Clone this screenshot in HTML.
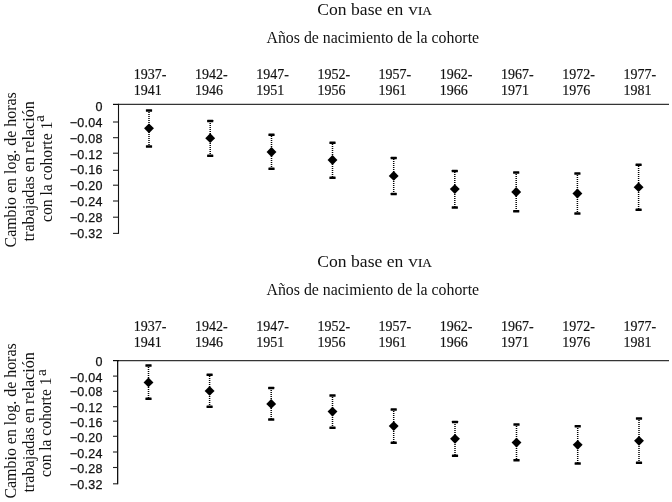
<!DOCTYPE html>
<html><head><meta charset="utf-8"><title>Chart</title>
<style>
html,body{margin:0;padding:0;background:#fff;}
body{width:672px;height:502px;overflow:hidden;font-family:"Liberation Serif",serif;}
svg{display:block;will-change:transform;}
.ser{font-family:"Liberation Serif",serif;fill:#111;}
.san{font-family:"Liberation Sans",sans-serif;fill:#111;stroke:#111;stroke-width:0.25px;}
.yr{stroke:#111;stroke-width:0.18px;}
</style></head><body>
<svg width="672" height="502" viewBox="0 0 672 502">
<rect width="672" height="502" fill="#fff"/>
<text x="317.3" y="15.4" class="ser" font-size="16.4" textLength="86.0" lengthAdjust="spacingAndGlyphs">Con base en</text>
<text x="408.3" y="15.4" class="ser yr" font-size="12.2" textLength="23.6" lengthAdjust="spacingAndGlyphs">VIA</text>
<text x="372.8" y="43.3" class="ser" font-size="16" text-anchor="middle" textLength="212.6" lengthAdjust="spacingAndGlyphs">Años de nacimiento de la cohorte</text>
<text x="133.8" y="78.5" class="ser yr" font-size="14">1937-</text>
<text x="133.8" y="95.4" class="ser yr" font-size="14">1941</text>
<text x="195.0" y="78.5" class="ser yr" font-size="14">1942-</text>
<text x="195.0" y="95.4" class="ser yr" font-size="14">1946</text>
<text x="256.2" y="78.5" class="ser yr" font-size="14">1947-</text>
<text x="256.2" y="95.4" class="ser yr" font-size="14">1951</text>
<text x="317.4" y="78.5" class="ser yr" font-size="14">1952-</text>
<text x="317.4" y="95.4" class="ser yr" font-size="14">1956</text>
<text x="378.6" y="78.5" class="ser yr" font-size="14">1957-</text>
<text x="378.6" y="95.4" class="ser yr" font-size="14">1961</text>
<text x="439.8" y="78.5" class="ser yr" font-size="14">1962-</text>
<text x="439.8" y="95.4" class="ser yr" font-size="14">1966</text>
<text x="501.0" y="78.5" class="ser yr" font-size="14">1967-</text>
<text x="501.0" y="95.4" class="ser yr" font-size="14">1971</text>
<text x="562.2" y="78.5" class="ser yr" font-size="14">1972-</text>
<text x="562.2" y="95.4" class="ser yr" font-size="14">1976</text>
<text x="623.4" y="78.5" class="ser yr" font-size="14">1977-</text>
<text x="623.4" y="95.4" class="ser yr" font-size="14">1981</text>
<line x1="118" y1="104.4" x2="669" y2="104.4" stroke="#343434" stroke-width="1.2"/>
<line x1="113" y1="104.4" x2="119" y2="104.4" stroke="#0a0a0a" stroke-width="1.2"/>
<line x1="118.5" y1="104.4" x2="118.5" y2="233.9" stroke="#111" stroke-width="1.1"/>
<line x1="113" y1="122.0" x2="118.5" y2="122.0" stroke="#222" stroke-width="1.1"/>
<line x1="113" y1="137.7" x2="118.5" y2="137.7" stroke="#222" stroke-width="1.1"/>
<line x1="113" y1="153.2" x2="118.5" y2="153.2" stroke="#222" stroke-width="1.1"/>
<line x1="113" y1="170.3" x2="118.5" y2="170.3" stroke="#222" stroke-width="1.1"/>
<line x1="113" y1="185.2" x2="118.5" y2="185.2" stroke="#222" stroke-width="1.1"/>
<line x1="113" y1="201.0" x2="118.5" y2="201.0" stroke="#222" stroke-width="1.1"/>
<line x1="113" y1="217.2" x2="118.5" y2="217.2" stroke="#222" stroke-width="1.1"/>
<line x1="113" y1="233.4" x2="118.5" y2="233.4" stroke="#222" stroke-width="1.1"/>
<text x="102.6" y="110.5" class="san" font-size="12.5" text-anchor="end" letter-spacing="0.25">0</text>
<text x="102.6" y="127.3" class="san" font-size="12.5" text-anchor="end" letter-spacing="0.25">−0.04</text>
<text x="102.6" y="143.0" class="san" font-size="12.5" text-anchor="end" letter-spacing="0.25">−0.08</text>
<text x="102.6" y="159.1" class="san" font-size="12.5" text-anchor="end" letter-spacing="0.25">−0.12</text>
<text x="102.6" y="174.0" class="san" font-size="12.5" text-anchor="end" letter-spacing="0.25">−0.16</text>
<text x="102.6" y="189.8" class="san" font-size="12.5" text-anchor="end" letter-spacing="0.25">−0.20</text>
<text x="102.6" y="206.1" class="san" font-size="12.5" text-anchor="end" letter-spacing="0.25">−0.24</text>
<text x="102.6" y="222.3" class="san" font-size="12.5" text-anchor="end" letter-spacing="0.25">−0.28</text>
<text x="102.6" y="237.6" class="san" font-size="12.5" text-anchor="end" letter-spacing="0.25">−0.32</text>
<line x1="149.0" y1="112" x2="149.0" y2="146" stroke="#000" stroke-width="1.5" stroke-dasharray="1 1"/>
<rect x="145.9" y="109.35" width="6.2" height="2.5" rx="0.5" fill="#000"/>
<rect x="145.9" y="145.35" width="6.2" height="2.5" rx="0.5" fill="#000"/>
<path d="M149.0 123.4 L153.95 128.3 L149.0 133.2 L144.05 128.3 Z" fill="#000"/>
<line x1="210.2" y1="123" x2="210.2" y2="155" stroke="#000" stroke-width="1.5" stroke-dasharray="1 1"/>
<rect x="207.1" y="119.75" width="6.2" height="2.5" rx="0.5" fill="#000"/>
<rect x="207.1" y="154.55" width="6.2" height="2.5" rx="0.5" fill="#000"/>
<path d="M210.2 133.3 L215.15 138.2 L210.2 143.1 L205.25 138.2 Z" fill="#000"/>
<line x1="271.5" y1="136" x2="271.5" y2="168" stroke="#000" stroke-width="1.5" stroke-dasharray="1 1"/>
<rect x="268.4" y="133.50" width="6.2" height="2.5" rx="0.5" fill="#000"/>
<rect x="268.4" y="167.55" width="6.2" height="2.5" rx="0.5" fill="#000"/>
<path d="M271.5 147.1 L276.45 152.0 L271.5 156.9 L266.55 152.0 Z" fill="#000"/>
<line x1="332.5" y1="144" x2="332.5" y2="177" stroke="#000" stroke-width="1.5" stroke-dasharray="1 1"/>
<rect x="329.4" y="141.55" width="6.2" height="2.5" rx="0.5" fill="#000"/>
<rect x="329.4" y="176.55" width="6.2" height="2.5" rx="0.5" fill="#000"/>
<path d="M332.5 155.1 L337.45 160.0 L332.5 164.9 L327.55 160.0 Z" fill="#000"/>
<line x1="393.7" y1="159" x2="393.7" y2="194" stroke="#000" stroke-width="1.5" stroke-dasharray="1 1"/>
<rect x="390.6" y="156.65" width="6.2" height="2.5" rx="0.5" fill="#000"/>
<rect x="390.6" y="192.75" width="6.2" height="2.5" rx="0.5" fill="#000"/>
<path d="M393.7 171.0 L398.65 175.9 L393.7 180.8 L388.75 175.9 Z" fill="#000"/>
<line x1="454.8" y1="172" x2="454.8" y2="207" stroke="#000" stroke-width="1.5" stroke-dasharray="1 1"/>
<rect x="451.7" y="169.65" width="6.2" height="2.5" rx="0.5" fill="#000"/>
<rect x="451.7" y="206.35" width="6.2" height="2.5" rx="0.5" fill="#000"/>
<path d="M454.8 184.2 L459.75 189.1 L454.8 194.0 L449.85 189.1 Z" fill="#000"/>
<line x1="516.2" y1="174" x2="516.2" y2="211" stroke="#000" stroke-width="1.5" stroke-dasharray="1 1"/>
<rect x="513.1" y="171.35" width="6.2" height="2.5" rx="0.5" fill="#000"/>
<rect x="513.1" y="209.95" width="6.2" height="2.5" rx="0.5" fill="#000"/>
<path d="M516.2 187.1 L521.15 192.0 L516.2 196.9 L511.25 192.0 Z" fill="#000"/>
<line x1="577.4" y1="175" x2="577.4" y2="213" stroke="#000" stroke-width="1.5" stroke-dasharray="1 1"/>
<rect x="574.3" y="172.15" width="6.2" height="2.5" rx="0.5" fill="#000"/>
<rect x="574.3" y="212.25" width="6.2" height="2.5" rx="0.5" fill="#000"/>
<path d="M577.4 188.6 L582.35 193.5 L577.4 198.4 L572.45 193.5 Z" fill="#000"/>
<line x1="638.6" y1="166" x2="638.6" y2="209" stroke="#000" stroke-width="1.5" stroke-dasharray="1 1"/>
<rect x="635.5" y="163.50" width="6.2" height="2.5" rx="0.5" fill="#000"/>
<rect x="635.5" y="208.55" width="6.2" height="2.5" rx="0.5" fill="#000"/>
<path d="M638.6 182.3 L643.55 187.2 L638.6 192.1 L633.65 187.2 Z" fill="#000"/>
<text transform="translate(16.4,247.5) rotate(-90)" x="0" y="0" class="ser" font-size="16" textLength="155.3" lengthAdjust="spacingAndGlyphs">Cambio en log. de horas</text>
<text transform="translate(33.9,241.4) rotate(-90)" x="0" y="0" class="ser" font-size="16" textLength="140.2" lengthAdjust="spacingAndGlyphs">trabajadas en relación</text>
<text transform="translate(51.8,222.0) rotate(-90)" x="0" y="0" class="ser" font-size="16" textLength="100.4" lengthAdjust="spacingAndGlyphs">con la cohorte 1</text>
<text transform="translate(44.4,122.0) rotate(-90)" x="0" y="0" class="ser" font-size="15.5" textLength="7.0" lengthAdjust="spacingAndGlyphs">a</text>
<text x="317.3" y="266.7" class="ser" font-size="16.4" textLength="86.0" lengthAdjust="spacingAndGlyphs">Con base en</text>
<text x="408.3" y="266.7" class="ser yr" font-size="12.2" textLength="23.6" lengthAdjust="spacingAndGlyphs">VIA</text>
<text x="372.8" y="295.2" class="ser" font-size="16" text-anchor="middle" textLength="212.6" lengthAdjust="spacingAndGlyphs">Años de nacimiento de la cohorte</text>
<text x="133.8" y="330.6" class="ser yr" font-size="14">1937-</text>
<text x="133.8" y="347.3" class="ser yr" font-size="14">1941</text>
<text x="195.0" y="330.6" class="ser yr" font-size="14">1942-</text>
<text x="195.0" y="347.3" class="ser yr" font-size="14">1946</text>
<text x="256.2" y="330.6" class="ser yr" font-size="14">1947-</text>
<text x="256.2" y="347.3" class="ser yr" font-size="14">1951</text>
<text x="317.4" y="330.6" class="ser yr" font-size="14">1952-</text>
<text x="317.4" y="347.3" class="ser yr" font-size="14">1956</text>
<text x="378.6" y="330.6" class="ser yr" font-size="14">1957-</text>
<text x="378.6" y="347.3" class="ser yr" font-size="14">1961</text>
<text x="439.8" y="330.6" class="ser yr" font-size="14">1962-</text>
<text x="439.8" y="347.3" class="ser yr" font-size="14">1966</text>
<text x="501.0" y="330.6" class="ser yr" font-size="14">1967-</text>
<text x="501.0" y="347.3" class="ser yr" font-size="14">1971</text>
<text x="562.2" y="330.6" class="ser yr" font-size="14">1972-</text>
<text x="562.2" y="347.3" class="ser yr" font-size="14">1976</text>
<text x="623.4" y="330.6" class="ser yr" font-size="14">1977-</text>
<text x="623.4" y="347.3" class="ser yr" font-size="14">1981</text>
<line x1="118" y1="360.6" x2="669" y2="360.6" stroke="#343434" stroke-width="1.2"/>
<line x1="113" y1="360.6" x2="119" y2="360.6" stroke="#0a0a0a" stroke-width="1.2"/>
<line x1="117.65" y1="360.6" x2="117.65" y2="484.3" stroke="#111" stroke-width="1.3"/>
<line x1="113" y1="376.1" x2="117.65" y2="376.1" stroke="#222" stroke-width="1.1"/>
<line x1="113" y1="391.3" x2="117.65" y2="391.3" stroke="#222" stroke-width="1.1"/>
<line x1="113" y1="406.7" x2="117.65" y2="406.7" stroke="#222" stroke-width="1.1"/>
<line x1="113" y1="421.2" x2="117.65" y2="421.2" stroke="#222" stroke-width="1.1"/>
<line x1="113" y1="436.3" x2="117.65" y2="436.3" stroke="#222" stroke-width="1.1"/>
<line x1="113" y1="452.0" x2="117.65" y2="452.0" stroke="#222" stroke-width="1.1"/>
<line x1="113" y1="467.5" x2="117.65" y2="467.5" stroke="#222" stroke-width="1.1"/>
<line x1="113" y1="483.8" x2="117.65" y2="483.8" stroke="#222" stroke-width="1.1"/>
<text x="102.6" y="366.3" class="san" font-size="12.5" text-anchor="end" letter-spacing="0.25">0</text>
<text x="102.6" y="381.6" class="san" font-size="12.5" text-anchor="end" letter-spacing="0.25">−0.04</text>
<text x="102.6" y="396.2" class="san" font-size="12.5" text-anchor="end" letter-spacing="0.25">−0.08</text>
<text x="102.6" y="412.3" class="san" font-size="12.5" text-anchor="end" letter-spacing="0.25">−0.12</text>
<text x="102.6" y="426.8" class="san" font-size="12.5" text-anchor="end" letter-spacing="0.25">−0.16</text>
<text x="102.6" y="441.9" class="san" font-size="12.5" text-anchor="end" letter-spacing="0.25">−0.20</text>
<text x="102.6" y="457.9" class="san" font-size="12.5" text-anchor="end" letter-spacing="0.25">−0.24</text>
<text x="102.6" y="473.0" class="san" font-size="12.5" text-anchor="end" letter-spacing="0.25">−0.28</text>
<text x="102.6" y="489.0" class="san" font-size="12.5" text-anchor="end" letter-spacing="0.25">−0.32</text>
<line x1="148.5" y1="367" x2="148.5" y2="398" stroke="#000" stroke-width="1.5" stroke-dasharray="1 1"/>
<rect x="145.4" y="364.15" width="6.2" height="2.5" rx="0.5" fill="#000"/>
<rect x="145.4" y="397.55" width="6.2" height="2.5" rx="0.5" fill="#000"/>
<path d="M148.5 377.5 L153.45 382.4 L148.5 387.3 L143.55 382.4 Z" fill="#000"/>
<line x1="209.6" y1="376" x2="209.6" y2="406" stroke="#000" stroke-width="1.5" stroke-dasharray="1 1"/>
<rect x="206.5" y="373.45" width="6.2" height="2.5" rx="0.5" fill="#000"/>
<rect x="206.5" y="405.55" width="6.2" height="2.5" rx="0.5" fill="#000"/>
<path d="M209.6 386.0 L214.55 390.9 L209.6 395.8 L204.65 390.9 Z" fill="#000"/>
<line x1="271.2" y1="390" x2="271.2" y2="419" stroke="#000" stroke-width="1.5" stroke-dasharray="1 1"/>
<rect x="268.1" y="386.85" width="6.2" height="2.5" rx="0.5" fill="#000"/>
<rect x="268.1" y="418.25" width="6.2" height="2.5" rx="0.5" fill="#000"/>
<path d="M271.2 399.0 L276.15 403.9 L271.2 408.8 L266.25 403.9 Z" fill="#000"/>
<line x1="332.5" y1="397" x2="332.5" y2="427" stroke="#000" stroke-width="1.5" stroke-dasharray="1 1"/>
<rect x="329.4" y="394.25" width="6.2" height="2.5" rx="0.5" fill="#000"/>
<rect x="329.4" y="426.55" width="6.2" height="2.5" rx="0.5" fill="#000"/>
<path d="M332.5 406.7 L337.45 411.6 L332.5 416.5 L327.55 411.6 Z" fill="#000"/>
<line x1="393.7" y1="411" x2="393.7" y2="442" stroke="#000" stroke-width="1.5" stroke-dasharray="1 1"/>
<rect x="390.6" y="408.35" width="6.2" height="2.5" rx="0.5" fill="#000"/>
<rect x="390.6" y="441.45" width="6.2" height="2.5" rx="0.5" fill="#000"/>
<path d="M393.7 421.2 L398.65 426.1 L393.7 431.0 L388.75 426.1 Z" fill="#000"/>
<line x1="455.0" y1="424" x2="455.0" y2="455" stroke="#000" stroke-width="1.5" stroke-dasharray="1 1"/>
<rect x="451.9" y="420.85" width="6.2" height="2.5" rx="0.5" fill="#000"/>
<rect x="451.9" y="454.55" width="6.2" height="2.5" rx="0.5" fill="#000"/>
<path d="M455.0 433.9 L459.95 438.8 L455.0 443.7 L450.05 438.8 Z" fill="#000"/>
<line x1="516.5" y1="426" x2="516.5" y2="460" stroke="#000" stroke-width="1.5" stroke-dasharray="1 1"/>
<rect x="513.4" y="423.35" width="6.2" height="2.5" rx="0.5" fill="#000"/>
<rect x="513.4" y="459.05" width="6.2" height="2.5" rx="0.5" fill="#000"/>
<path d="M516.5 437.7 L521.45 442.6 L516.5 447.5 L511.55 442.6 Z" fill="#000"/>
<line x1="577.7" y1="428" x2="577.7" y2="463" stroke="#000" stroke-width="1.5" stroke-dasharray="1 1"/>
<rect x="574.6" y="424.95" width="6.2" height="2.5" rx="0.5" fill="#000"/>
<rect x="574.6" y="462.25" width="6.2" height="2.5" rx="0.5" fill="#000"/>
<path d="M577.7 439.9 L582.65 444.8 L577.7 449.7 L572.75 444.8 Z" fill="#000"/>
<line x1="639.0" y1="420" x2="639.0" y2="462" stroke="#000" stroke-width="1.5" stroke-dasharray="1 1"/>
<rect x="635.9" y="417.25" width="6.2" height="2.5" rx="0.5" fill="#000"/>
<rect x="635.9" y="461.55" width="6.2" height="2.5" rx="0.5" fill="#000"/>
<path d="M639.0 435.9 L643.95 440.8 L639.0 445.7 L634.05 440.8 Z" fill="#000"/>
<text transform="translate(16.4,498.6) rotate(-90)" x="0" y="0" class="ser" font-size="16" textLength="155.3" lengthAdjust="spacingAndGlyphs">Cambio en log. de horas</text>
<text transform="translate(33.9,492.5) rotate(-90)" x="0" y="0" class="ser" font-size="16" textLength="140.3" lengthAdjust="spacingAndGlyphs">trabajadas en relación</text>
<text transform="translate(51.4,476.90000000000003) rotate(-90)" x="0" y="0" class="ser" font-size="16" textLength="99.3" lengthAdjust="spacingAndGlyphs">con la cohorte 1</text>
<text transform="translate(45.9,375.90000000000003) rotate(-90)" x="0" y="0" class="ser" font-size="15.5" textLength="6.8" lengthAdjust="spacingAndGlyphs">a</text>
</svg>
</body></html>
